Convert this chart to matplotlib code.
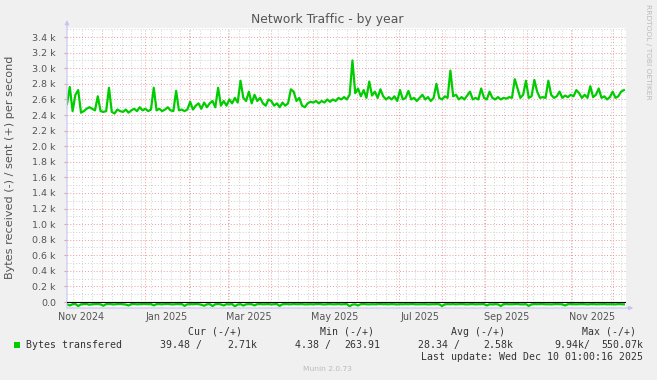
import numpy as np
import matplotlib
matplotlib.use("Agg")
import matplotlib.pyplot as plt
import matplotlib.dates as mdates
from matplotlib.patches import Rectangle

W, H = 657, 380

# daily-ish samples (every 2 days), bytes per second in k
sent_k = [
    2.54, 2.76, 2.45, 2.66, 2.72, 2.43, 2.45, 2.48, 2.50, 2.48,
    2.46, 2.64, 2.45, 2.44, 2.45, 2.75, 2.44, 2.42, 2.47, 2.45,
    2.44, 2.47, 2.43, 2.46, 2.48, 2.45, 2.50, 2.46, 2.48, 2.45,
    2.47, 2.75, 2.46, 2.48, 2.45, 2.47, 2.50, 2.46, 2.45, 2.71,
    2.46, 2.47, 2.45, 2.47, 2.57, 2.47, 2.52, 2.55, 2.48, 2.56,
    2.50, 2.55, 2.58, 2.50, 2.75, 2.52, 2.58, 2.52, 2.60, 2.55,
    2.62, 2.56, 2.84, 2.62, 2.58, 2.70, 2.55, 2.66, 2.58, 2.62,
    2.55, 2.52, 2.60, 2.58, 2.52, 2.55, 2.50, 2.56, 2.52, 2.55,
    2.73, 2.70, 2.58, 2.62, 2.52, 2.50, 2.55, 2.57, 2.56, 2.58,
    2.55, 2.58, 2.56, 2.60, 2.57, 2.60, 2.58, 2.62, 2.60, 2.63,
    2.60, 2.66, 3.10, 2.68, 2.74, 2.64, 2.72, 2.62, 2.83, 2.65,
    2.70, 2.62, 2.73, 2.64, 2.60, 2.63, 2.60, 2.64, 2.58, 2.72,
    2.60, 2.62, 2.71, 2.60, 2.62, 2.58, 2.62, 2.66, 2.60, 2.63,
    2.58, 2.62, 2.80, 2.62, 2.60, 2.64, 2.62, 2.97, 2.64, 2.66,
    2.60, 2.63, 2.60, 2.65, 2.70, 2.60, 2.62, 2.60, 2.74, 2.62,
    2.60, 2.70, 2.62, 2.60, 2.63, 2.60, 2.62, 2.61, 2.63, 2.62,
    2.86, 2.74, 2.62, 2.66, 2.84, 2.62, 2.64, 2.85, 2.70, 2.62,
    2.63, 2.62, 2.84, 2.66, 2.62, 2.64, 2.70, 2.62, 2.65, 2.63,
    2.66, 2.64, 2.72, 2.68, 2.62, 2.66, 2.62, 2.77, 2.63, 2.66,
    2.74, 2.62, 2.64, 2.60, 2.63, 2.70, 2.62, 2.64, 2.70, 2.72,
]

# received, bytes per second (drawn negative)
recv = [
    30, 45, 28, 25, 52, 30, 27, 26, 35, 29, 28, 26, 30, 48, 27, 25, 29, 31, 27, 26,
    28, 33, 45, 27, 26, 30, 28, 27, 25, 29, 26, 44, 28, 27, 30, 26, 25, 29, 31, 27,
    28, 26, 50, 30, 27, 29, 26, 28, 35, 48, 30, 27, 52, 29, 26, 31, 45, 28, 30, 27,
    55, 32, 28, 46, 30, 27, 29, 44, 28, 26, 30, 29, 27, 31, 28, 26, 50, 29, 27, 28,
    30, 26, 29, 28, 27, 31, 29, 28, 30, 27, 26, 29, 32, 28, 27, 30, 29, 26, 31, 28,
    27, 55, 33, 30, 45, 28, 27, 29, 31, 28, 30, 27, 26, 29, 28, 30, 27, 29, 31, 28,
    30, 27, 29, 26, 28, 30, 29, 27, 28, 31, 30, 28, 27, 29, 52, 30, 28, 29, 27, 30,
    28, 26, 29, 31, 28, 27, 30, 29, 28, 27, 45, 29, 31, 28, 30, 52, 28, 27, 30, 29,
    28, 26, 31, 29, 28, 50, 30, 27, 29, 28, 26, 30, 29, 31, 28, 27, 29, 30, 45, 28,
    27, 29, 30, 28, 26, 29, 31, 28, 27, 30, 29, 28, 27, 30, 29, 28, 31, 27, 29, 30,
]

month_labels = ["Nov 2024", "Jan 2025", "Mar 2025", "May 2025", "Jul 2025", "Sep 2025", "Nov 2025"]
label_months = ["2024-11", "2025-01", "2025-03", "2025-05", "2025-07", "2025-09", "2025-11"]

legend_name = "Bytes transfered"
cur = ("39.48 /", "2.71k")
mn = ("4.38 /", "263.91")
avg = ("28.34 /", "2.58k")
mx = ("9.94k/", "550.07k")
last_update = "Last update: Wed Dec 10 01:00:16 2025"

GREEN = "#00CC00"
BG = "#F0F0F0"

start = np.datetime64("2024-11-06")
dates = start + np.arange(len(sent_k)) * np.timedelta64(2, "D")
sent = np.array(sent_k) * 1000
recv_neg = -np.array(recv, dtype=float)

fig = plt.figure(figsize=(W / 100, H / 100), dpi=100, facecolor=BG)
ax = fig.add_axes([67 / W, 1 - 308 / H, 559 / W, 280 / H])
ax.set_facecolor("white")

ax.set_xlim(np.datetime64("2024-11-06"), np.datetime64("2025-12-10T12:00"))
ax.set_ylim(-77, 3517)

# grid
yt = np.arange(0, 3401, 200)
ax.set_yticks(yt)
ax.set_yticklabels(["0.0" if v == 0 else f"{v / 1000:.1f} k" for v in yt])
ax.set_yticks(np.arange(100, 3501, 200), minor=True)
ax.xaxis.set_major_locator(mdates.MonthLocator())
ax.xaxis.set_minor_locator(mdates.WeekdayLocator(byweekday=mdates.SU))
ax.xaxis.set_major_formatter(plt.NullFormatter())
ax.grid(which="minor", color="#cfcfcf", ls=(0, (1, 2)), lw=0.7)
ax.grid(which="major", color="#ee9c9c", ls=(0, (1, 2)), lw=0.7)
ax.tick_params(axis="x", which="both", length=0)
ax.tick_params(axis="y", which="major", length=2, color="#ee9c9c", pad=6,
               labelsize=6.8, labelcolor="#555555")
ax.tick_params(axis="y", which="minor", length=0)
for s in ax.spines.values():
    s.set_visible(False)

ax.plot(dates, sent, color=GREEN, lw=1.6, zorder=3)
ax.plot(dates, recv_neg, color=GREEN, lw=1.6, zorder=3)
ax.axhline(0, color="black", lw=0.8, zorder=4)

# axis lines with arrows
ax.annotate("", xy=(0, 1.028), xytext=(0, 0), xycoords="axes fraction",
            arrowprops=dict(arrowstyle="-|>", color="#c4c4f4", lw=0.8,
                            mutation_scale=6, shrinkA=0, shrinkB=0), annotation_clip=False)
ax.annotate("", xy=(1.013, 0), xytext=(0, 0), xycoords="axes fraction",
            arrowprops=dict(arrowstyle="-|>", color="#c4c4f4", lw=0.8,
                            mutation_scale=6, shrinkA=0, shrinkB=0), annotation_clip=False)

# month labels centered in month
trans = ax.get_xaxis_transform()
for lab, m in zip(month_labels, label_months):
    xm = np.datetime64(m + "-01") + np.timedelta64(15, "D")
    ax.text(xm, -0.033, lab, transform=trans, ha="center", va="center",
            fontsize=6.9, color="#555555", clip_on=False)


def fpx(x, y):
    return x / W, 1 - y / H


fig.text(*fpx(327, 19), "Network Traffic - by year", ha="center", va="center",
         fontsize=8.9, color="#555555")
fig.text(*fpx(10, 167), "Bytes received (-) / sent (+) per second", rotation=90,
         ha="center", va="center", fontsize=8.1, color="#555555")
fig.text(*fpx(648, 52), "RRDTOOL / TOBI OETIKER", rotation=270, ha="center",
         va="center", fontsize=5.4, color="#bbbbbb")
fig.text(*fpx(327, 369), "Munin 2.0.73", ha="center", va="center",
         fontsize=5.4, color="#bbbbbb")

mono = dict(family="DejaVu Sans Mono", fontsize=7.15, color="#333333", va="center")
for lab, x in [("Cur (-/+)", 188), ("Min (-/+)", 320), ("Avg (-/+)", 451), ("Max (-/+)", 582)]:
    fig.text(*fpx(x, 332), lab, ha="left", **mono)

fig.patches.append(Rectangle(fpx(14, 348), 6 / W, 6 / H, transform=fig.transFigure,
                             facecolor=GREEN, edgecolor="none"))
fig.text(*fpx(26, 345), legend_name, ha="left", **mono)
fig.text(*fpx(160, 345), cur[0], ha="left", **mono)
fig.text(*fpx(257, 345), cur[1], ha="right", **mono)
fig.text(*fpx(295, 345), mn[0], ha="left", **mono)
fig.text(*fpx(380, 345), mn[1], ha="right", **mono)
fig.text(*fpx(418, 345), avg[0], ha="left", **mono)
fig.text(*fpx(513, 345), avg[1], ha="right", **mono)
fig.text(*fpx(590, 345), mx[0], ha="right", **mono)
fig.text(*fpx(643, 345), mx[1], ha="right", **mono)
fig.text(*fpx(643, 357), last_update, ha="right", **mono)

fig.savefig("out.png", dpi=100, facecolor=BG)
